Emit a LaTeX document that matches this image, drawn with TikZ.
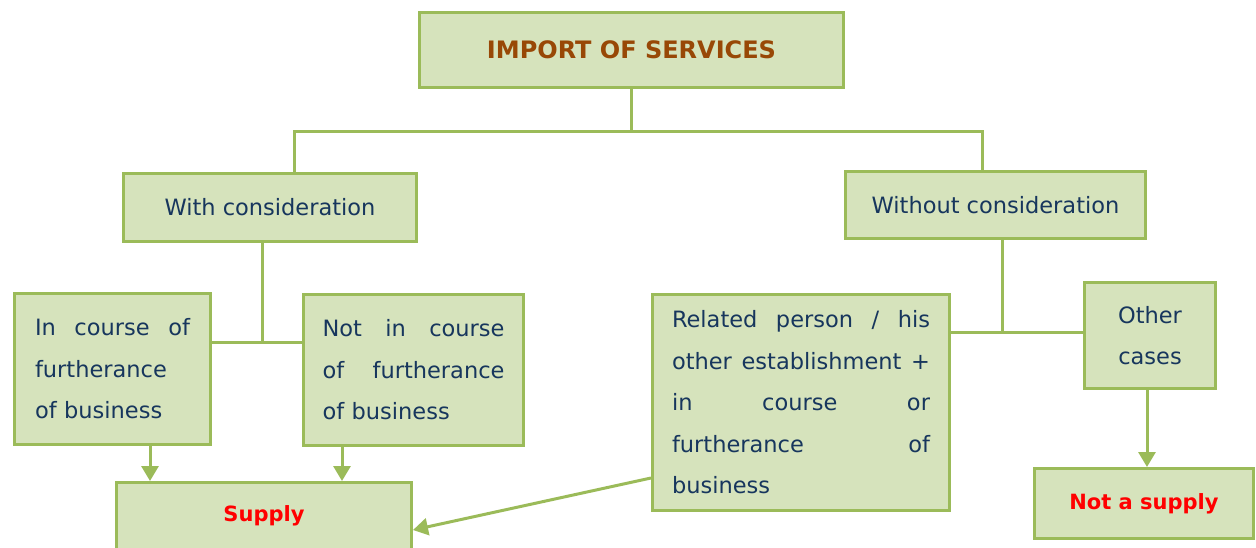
\documentclass[tikz,border=0pt]{standalone}
\usepackage{fontspec}
\setmainfont{DejaVu Sans}
\usetikzlibrary{arrows.meta}
\definecolor{boxfill}{HTML}{D6E3BC}
\definecolor{boxline}{HTML}{9BBB59}
\definecolor{navy}{HTML}{17365D}
\definecolor{brown}{HTML}{984806}
\tikzset{
  box/.style={draw=boxline, line width=3pt, fill=boxfill, inner sep=0pt, text=navy,
    font=\fontsize{22.5}{41.5}\selectfont},
  link/.style={draw=boxline, line width=3pt},
  arr/.style={link, -{Triangle[width=17pt,length=15pt]}},
}
\begin{document}
\begin{tikzpicture}[x=1pt,y=-1pt]
\useasboundingbox (0,0) rectangle (1256,548);
\node[box, minimum width=424pt, minimum height=75pt, text=brown] (imp) at (631.5,50){\fontsize{24}{28}\selectfont\bfseries IMPORT OF SERVICES};
\node[box, minimum width=293pt, minimum height=68pt] (withc) at (270,207.5){With consideration};
\node[box, minimum width=300pt, minimum height=67pt] (woc) at (995.5,205){Without consideration};
\node[box, minimum width=196pt, minimum height=151pt, text width=155pt, align=left] (inc) at (112.5,369){In\hfill course\hfill of\\furtherance\\of business};
\node[box, minimum width=220pt, minimum height=151pt, text width=182pt, align=left] (notin) at (413.5,370){Not\hfill in\hfill course\\of\hfill furtherance\\of business};
\node[box, minimum width=297pt, minimum height=216pt, text width=258pt, align=left] (rel) at (801,402.5){Related\hfill person\hfill /\hfill his\\other\hfill establishment\hfill +\\in\hfill course\hfill or\\furtherance\hfill of\\business};
\node[box, minimum width=131pt, minimum height=106pt, align=center] (oth) at (1150,335.5){Other\\cases};
\node[box, minimum width=295pt, minimum height=67pt, text=red] (sup) at (264,516){\fontsize{21}{25}\selectfont\bfseries Supply};
\node[box, minimum width=219pt, minimum height=70pt, text=red] (nsup) at (1144,503.5){\fontsize{21}{25}\selectfont\bfseries Not a supply};
\coordinate (jl) at (294,132);
\coordinate (jr) at (982,132);
\coordinate (jw) at (262,342);
\coordinate (jo) at (1002,332);
\coordinate (a1) at (150,0);
\coordinate (a2) at (342,0);
\coordinate (a3) at (1147,0);
\draw[link] (imp.south) -- (imp.south |- jl);
\draw[link] (withc.north -| jl) -- (jl) -- (jr) -- (woc.north -| jr);
\draw[link] (withc.south -| jw) -- (jw);
\draw[link] (inc.east |- jw) -- (notin.west |- jw);
\draw[link] (woc.south -| jo) -- (jo);
\draw[link] (rel.east |- jo) -- (oth.west |- jo);
\draw[arr] (inc.south -| a1) -- (sup.north -| a1);
\draw[arr] (notin.south -| a2) -- (sup.north -| a2);
\draw[arr] ([yshift=-75.5pt]rel.west) -- ([yshift=-14pt]sup.east);
\draw[arr] (oth.south -| a3) -- (nsup.north -| a3);
\end{tikzpicture}
\end{document}
